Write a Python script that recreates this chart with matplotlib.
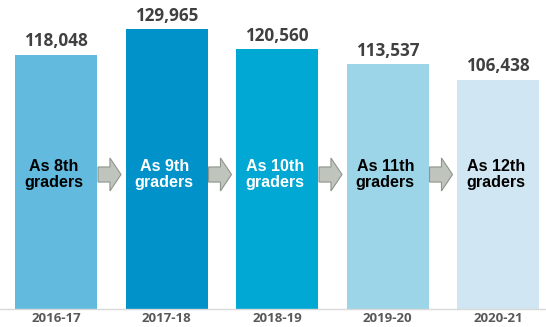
import matplotlib.pyplot as plt
import matplotlib.patches as mpatches

years = ['2016-17', '2017-18', '2018-19', '2019-20', '2020-21']
counts = [118048, 129965, 120560, 113537, 106438]
grades = ['As 8th\ngraders', 'As 9th\ngraders', 'As 10th\ngraders', 'As 11th\ngraders', 'As 12th\ngraders']
bar_colors = ['#62bbdf', '#0092c8', '#00a8d3', '#9cd4e8', '#d0e7f3']
text_colors = ['black', 'white', 'white', 'black', 'black']

fig = plt.figure(figsize=(5.46, 3.27), dpi=100)
ax = fig.add_axes([0, 18 / 327, 1, 309 / 327])

x = list(range(len(years)))
ax.bar(x, counts, width=0.742, color=bar_colors, zorder=2)

ax.set_xlim(-0.507, 4.434)
ax.set_ylim(0, 143434)

# value labels on top
for i, v in enumerate(counts):
    ax.annotate(f'{v:,}', (i, v), xytext=(0, 6), textcoords='offset points',
                ha='center', va='baseline', fontsize=12.3, fontweight='bold',
                color='#404040', family='Open Sans')

# grade labels inside bars
mid = 62430
for i, g in enumerate(grades):
    ax.text(i - 0.02, mid, g, ha='center', va='center', fontsize=11.6, fontweight='bold',
            color=text_colors[i], family='Liberation Sans', linespacing=1.15, zorder=3)

# arrows between bars
for i in range(len(years) - 1):
    arr = mpatches.FancyArrow(i + 0.38, mid, 0.208, 0, width=7000, head_width=15300,
                              head_length=0.10, length_includes_head=True,
                              facecolor='#bfc4bc', edgecolor='#8e958c', lw=0.8, zorder=3)
    ax.add_patch(arr)

for s in ['left', 'right', 'top']:
    ax.spines[s].set_visible(False)
ax.spines['bottom'].set_color('#d9d9d9')
ax.spines['bottom'].set_linewidth(1)
ax.set_yticks([])
ax.set_xticks(x)
ax.set_xticklabels(years, fontsize=9.5, fontweight='bold', color='#595959', family='Open Sans')
ax.tick_params(axis='x', length=0, pad=2)

fig.savefig('out.png', dpi=100)
